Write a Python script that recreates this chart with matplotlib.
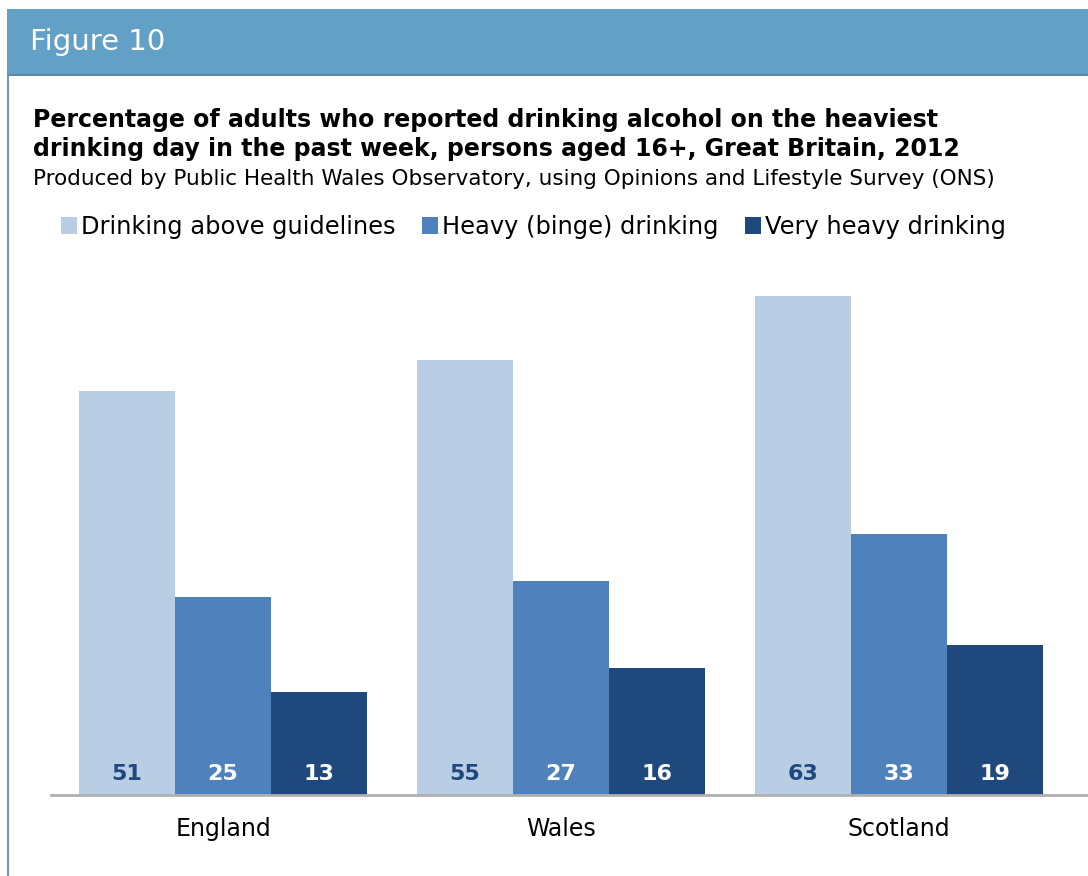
import matplotlib
matplotlib.use("Agg")
import matplotlib.pyplot as plt
from matplotlib.patches import Rectangle
import numpy as np

# Data
countries = ["England", "Wales", "Scotland"]
series_names = ["Drinking above guidelines", "Heavy (binge) drinking", "Very heavy drinking"]
above_guidelines = [51, 55, 63]
heavy_binge = [25, 27, 33]
very_heavy = [13, 16, 19]

colors = ["#b9cde5", "#4f81bd", "#1f497d"]
label_colors = ["#1f497d", "white", "white"]

W, H = 1088, 876
fig = plt.figure(figsize=(W / 100, H / 100), dpi=100)

# header band and left frame line
fig.patches.append(Rectangle((7 / W, 1 - 75 / H), 1, 66 / H, transform=fig.transFigure,
                             facecolor="#62a0c6", edgecolor="none", zorder=0))
fig.patches.append(Rectangle((7 / W, 1 - 76 / H), 1, 2 / H, transform=fig.transFigure,
                             facecolor="#5a87ab", edgecolor="none", zorder=0))
fig.patches.append(Rectangle((7 / W, 0), 2 / W, 1 - 75 / H, transform=fig.transFigure,
                             facecolor="#7097bd", edgecolor="none", zorder=0))
fig.text(30 / W, 1 - 42 / H, "Figure 10", color="white", fontsize=21, va="center", ha="left")

# titles
fig.text(33 / W, 1 - 127 / H, "Percentage of adults who reported drinking alcohol on the heaviest",
         fontsize=17, fontweight="bold", va="baseline")
fig.text(33 / W, 1 - 156 / H, "drinking day in the past week, persons aged 16+, Great Britain, 2012",
         fontsize=17, fontweight="bold", va="baseline")
fig.text(33 / W, 1 - 185 / H, "Produced by Public Health Wales Observatory, using Opinions and Lifestyle Survey (ONS)",
         fontsize=15.5, va="baseline")

ax = fig.add_axes([51 / W, 81 / H, 1 - 51 / W, (795 - 241) / H])

x = np.arange(len(countries))
width = 0.284
values = [above_guidelines, heavy_binge, very_heavy]
for i, vals in enumerate(values):
    bars = ax.bar(x + (i - 1) * width, vals, width, color=colors[i], label=series_names[i], zorder=2)
    for b, v in zip(bars, vals):
        ax.text(b.get_x() + b.get_width() / 2, 2.7, str(v), ha="center", va="center",
                color=label_colors[i], fontsize=16, fontweight="bold", zorder=3)

ax.set_xlim(-0.509, 2.559)
ax.set_ylim(0, 70)
ax.set_yticks([])
ax.set_xticks(x)
ax.set_xticklabels(countries, fontsize=17)
ax.tick_params(axis="x", length=0, pad=16)
for s in ["top", "right", "left"]:
    ax.spines[s].set_visible(False)
ax.spines["bottom"].set_color("#b0b0b0")
ax.spines["bottom"].set_linewidth(2)

leg = ax.legend(loc="center left", bbox_to_anchor=(61 / W, 1 - 227 / H), bbox_transform=fig.transFigure,
                ncol=3, frameon=False, fontsize=17.4, handlelength=0.66, handleheight=0.66,
                handletextpad=0.17, columnspacing=1.1, borderaxespad=0, borderpad=0)

fig.savefig("out.png", dpi=100)
